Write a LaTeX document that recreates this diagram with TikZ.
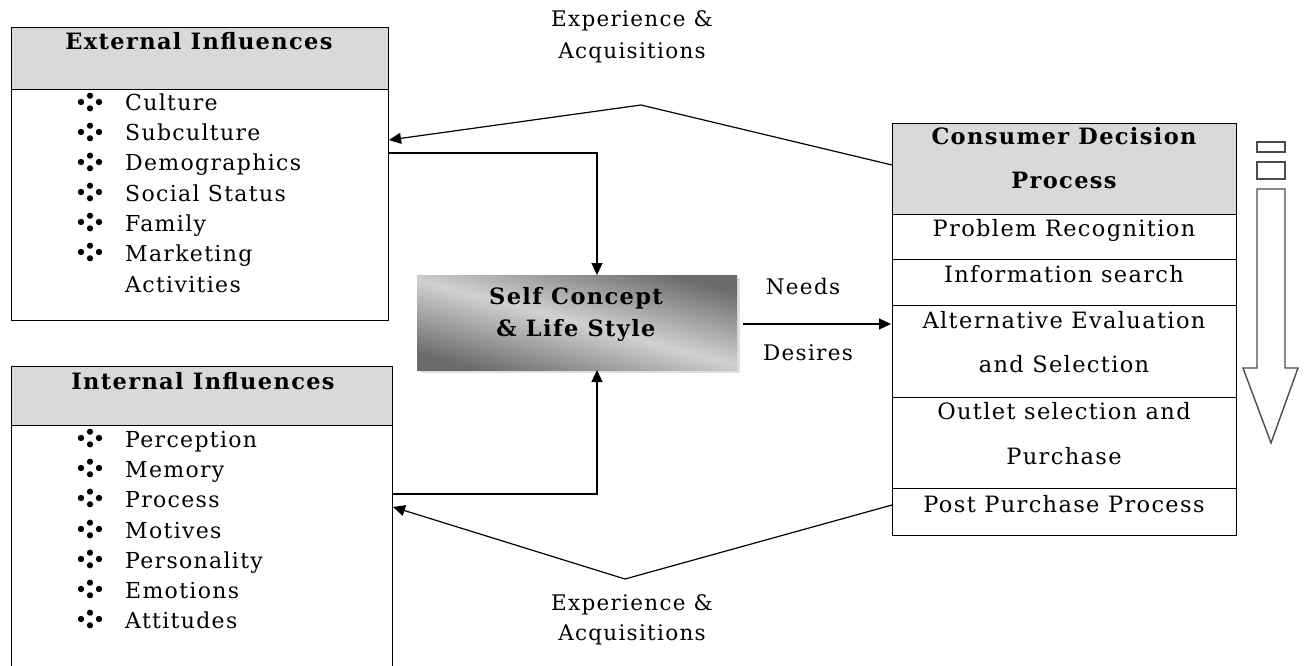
\documentclass[tikz,border=0pt]{standalone}
\usepackage{fontspec}
\setmainfont[LetterSpace=6]{DejaVu Serif}
\usetikzlibrary{arrows.meta,shadows}

\begin{document}
\begin{tikzpicture}[x=1pt,y=-1pt,
  box/.style={draw, line width=1.3pt, rectangle, anchor=north west, inner sep=0pt},
  hdr/.style={box, fill=gray!30},
  ttl/.style={font=\fontsize{22.5}{26}\selectfont\bfseries, inner sep=0pt, anchor=base},
  txt/.style={font=\fontsize{22.5}{26}\selectfont, inner sep=0pt, anchor=base},
  item/.style={font=\fontsize{22}{26}\selectfont, inner sep=0pt, anchor=base west},
  lbl/.style={font=\fontsize{21.5}{26}\selectfont, inner sep=0pt, anchor=base},
  con/.style={line width=1.2pt, -{Triangle[length=12pt,width=11pt]}},
  bulletmark/.pic={
    \fill (-9,0) circle (3.2); \fill (9,0) circle (3.2);
    \fill (0,-6.3) circle (3.1); \fill (0,6.3) circle (3.1);},
  selfbox/.style={rectangle, inner sep=0pt, minimum width=320pt, minimum height=95pt,
    left color=black!58, right color=black!58, middle color=black!18, shading angle=165,
    drop shadow={shadow xshift=3pt, shadow yshift=-3pt, opacity=0.25}}
]
\useasboundingbox (0,0) rectangle (1304,666);
\clip (0,0) rectangle (1304,666);

% External influences
\node[box, minimum width=377pt, minimum height=293pt] (ext) at (11,27) {};
\node[hdr, minimum width=377pt, minimum height=62pt] (exth) at (11,27) {};
\node[ttl] (extt) at (199,50) {External Influences};
\foreach \t/\y [count=\i] in {Culture/103, Subculture/133, Demographics/163, Social Status/193, Family/223, Marketing/253} {
  \pic at (90,\y-1) {bulletmark};
  \node[item] (exti\i) at (125,\y+8) {\t};
}
\node[item] (exti7) at (125,292) {Activities};

% Internal influences
\node[box, minimum width=381pt, minimum height=320pt] (int) at (11,366) {};
\node[hdr, minimum width=381pt, minimum height=59pt] (inth) at (11,366) {};
\node[ttl] (intt) at (203,389) {Internal Influences};
\foreach \t/\y [count=\i] in {Perception/439, Memory/469, Process/499, Motives/530, Personality/560, Emotions/590, Attitudes/620} {
  \pic at (90,\y-1) {bulletmark};
  \node[item] (inti\i) at (125,\y+8) {\t};
}

% Self concept
\node[selfbox] (self) at (577,322.5) {};
\node[ttl] (self1) at (576,304) {Self Concept};
\node[ttl] (self2) at (576,336) {\& Life Style};

% Consumer decision process
\node[hdr, minimum width=344pt, minimum height=91pt] (cdp) at (892,123) {};
\node[box, minimum width=344pt, minimum height=45pt] (r1) at (892,214) {};
\node[box, minimum width=344pt, minimum height=46pt] (r2) at (892,259) {};
\node[box, minimum width=344pt, minimum height=92pt] (r3) at (892,305) {};
\node[box, minimum width=344pt, minimum height=91pt] (r4) at (892,397) {};
\node[box, minimum width=344pt, minimum height=47pt] (r5) at (892,488) {};
\node[ttl] (cdpt1) at (1064,145) {Consumer Decision};
\node[ttl] (cdpt2) at (1064,189) {Process};
\node[txt] (t1) at (1064,236) {Problem Recognition};
\node[txt] (t2) at (1064,282) {Information search};
\node[txt] (t3a) at (1064,328) {Alternative Evaluation};
\node[txt] (t3b) at (1064,372) {and Selection};
\node[txt] (t4a) at (1064,419) {Outlet selection and};
\node[txt] (t4b) at (1064,464) {Purchase};
\node[txt] (t5) at (1064,512) {Post Purchase Process};

% Flow direction arrow
\draw[line width=1.4pt, draw=black!70] (1257,142) rectangle (1285,152);
\draw[line width=1.4pt, draw=black!70] (1257,162) rectangle (1285,179);
\draw[line width=1.4pt, draw=black!70, line join=miter]
  (1257,189) -- (1285,189) -- (1285,368) -- (1298,368) -- (1271,443)
  -- (1243,368) -- (1257,368) -- cycle;

% Connectors
\coordinate (a1) at (388,153);
\coordinate (a2) at (597,275);
\draw[con] (a1) -| (a2);
\coordinate (b1) at (392,494);
\coordinate (b2) at (597,370);
\draw[con] (b1) -| (b2);
\coordinate (n1) at (743,324);
\coordinate (n2) at (891,324);
\draw[con] (n1) -- (n2);
\coordinate (c1) at (892,165);
\coordinate (c2) at (641,105);
\coordinate (c3) at (389,140);
\draw[con] (c1) -- (c2) -- (c3);
\coordinate (d1) at (892,505);
\coordinate (d2) at (625,579);
\coordinate (d3) at (393,507);
\draw[con] (d1) -- (d2) -- (d3);

% Labels
\node[lbl] (la1) at (632,27) {Experience \&};
\node[lbl] (la2) at (632,59) {Acquisitions};
\node[lbl] (lb1) at (632,610) {Experience \&};
\node[lbl] (lb2) at (632,640) {Acquisitions};
\node[lbl] (ln) at (803,294) {Needs};
\node[lbl] (ld) at (808,360) {Desires};
\end{tikzpicture}
\end{document}
